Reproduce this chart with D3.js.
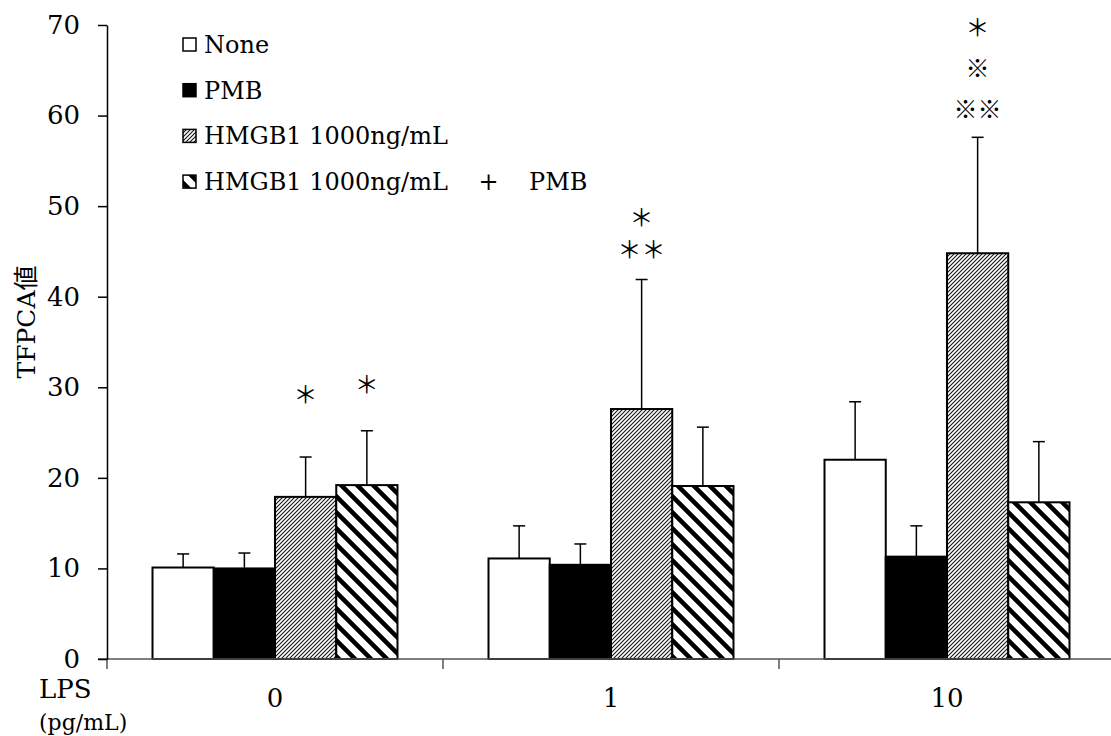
<!DOCTYPE html>
<html><head><meta charset="utf-8">
<script src="https://cdn.jsdelivr.net/npm/d3@7"></script>
<style>body{margin:0;background:#fff} svg{display:block}</style>
</head><body>
<svg id="c" width="1111" height="736"></svg>
<script>
const groups = ["0", "1", "10"];
const seriesNames = ["None", "PMB", "HMGB1 1000ng/mL", "HMGB1 1000ng/mL    +    PMB"];
const valsNone = [10.1, 11.1, 22.0];
const valsPMB = [10.0, 10.4, 11.3];
const valsHMGB1 = [17.9, 27.6, 44.8];
const valsHMGB1PMB = [19.2, 19.1, 17.3];
const errNone = [11.6, 14.7, 28.4];
const errPMB = [11.7, 12.7, 14.7];
const errHMGB1 = [22.3, 41.9, 57.6];
const errHMGB1PMB = [25.2, 25.6, 24.0];
const yTicks = [0, 10, 20, 30, 40, 50, 60, 70];
const annGroup = ["0", "0", "1", "1", "10", "10", "10"];
const annSeries = [2, 3, 2, 2, 2, 2, 2];
const annValue = [29.4, 30.5, 49.0, 45.4, 70.0, 65.4, 60.9];
const annLabel = ["＊", "＊", "＊", "＊＊", "＊", "※", "※※"];
const yTitle = "TFPCA値";
const xTitle1 = "LPS";
const xTitle2 = "(pg/mL)";

const values = [valsNone, valsPMB, valsHMGB1, valsHMGB1PMB];
const errs = [errNone, errPMB, errHMGB1, errHMGB1PMB];

const svg = d3.select("#c");
const serif = "'DejaVu Serif', 'Noto Sans CJK JP', serif";

const defs = svg.append("defs");
const p1 = defs.append("pattern").attr("id", "fine").attr("patternUnits", "userSpaceOnUse")
  .attr("width", 4).attr("height", 4);
p1.append("rect").attr("width", 4).attr("height", 4).attr("fill", "#fff");
p1.append("path").attr("d", "M0,4 L4,0 M-1,1 L1,-1 M3,5 L5,3")
  .attr("stroke", "#111").attr("stroke-width", 1.1);
const p2 = defs.append("pattern").attr("id", "wide").attr("patternUnits", "userSpaceOnUse")
  .attr("width", 16).attr("height", 16);
p2.append("rect").attr("width", 16).attr("height", 16).attr("fill", "#fff");
p2.append("path").attr("d", "M0,0 L16,16 M-4,12 L4,20 M12,-4 L20,4")
  .attr("stroke", "#000").attr("stroke-width", 4.5);

const fills = ["#fff", "#000", "url(#fine)", "url(#wide)"];

const x = d3.scaleBand().domain(groups).range([107, 1115]).paddingInner(0).paddingOuter(0);
const xs = d3.scaleBand().domain(d3.range(seriesNames.length)).range([0, x.bandwidth()])
  .paddingInner(0).paddingOuter(0.743);
const y = d3.scaleLinear().domain([0, 70]).range([659, 25]);

const rows = [];
groups.forEach((g, gi) => seriesNames.forEach((s, si) => rows.push({g, si, v: values[si][gi], e: errs[si][gi]})));

// error bars (behind bars)
const eb = svg.append("g").attr("stroke", "#000").attr("stroke-width", 1.5);
rows.forEach(r => {
  const cx = x(r.g) + xs(r.si) + xs.bandwidth() / 2;
  eb.append("line").attr("x1", cx).attr("x2", cx).attr("y1", y(r.v)).attr("y2", y(r.e));
  eb.append("line").attr("x1", cx - 6).attr("x2", cx + 6).attr("y1", y(r.e)).attr("y2", y(r.e));
});

svg.append("g").selectAll("rect").data(rows).join("rect")
  .attr("x", d => x(d.g) + xs(d.si))
  .attr("width", xs.bandwidth())
  .attr("y", d => y(d.v))
  .attr("height", d => y(0) - y(d.v))
  .attr("fill", d => fills[d.si])
  .attr("stroke", "#000").attr("stroke-width", 2);

// x axis
const xa = svg.append("g");
xa.append("line").attr("x1", 98).attr("x2", 1115).attr("y1", y(0)).attr("y2", y(0))
  .attr("stroke", "#555").attr("stroke-width", 1.5);
const bounds = groups.map(g => x(g)).concat([x.range()[1]]);
xa.selectAll("line.t").data(bounds).join("line").attr("class", "t")
  .attr("x1", d => d).attr("x2", d => d).attr("y1", y(0)).attr("y2", y(0) + 10)
  .attr("stroke", "#555").attr("stroke-width", 1.5);
xa.selectAll("text").data(groups).join("text")
  .attr("x", d => x(d) + x.bandwidth() / 2).attr("y", 698)
  .attr("text-anchor", "middle").attr("dominant-baseline", "central")
  .attr("font-family", serif).attr("font-size", 26).text(d => d);

// y axis
const ya = svg.append("g").attr("transform", "translate(107,0)")
  .call(d3.axisLeft(y).tickValues(yTicks).tickSize(9).tickPadding(18).tickSizeOuter(0));
ya.select(".domain").attr("stroke", "#000").attr("stroke-width", 1.5);
ya.selectAll(".tick line").attr("stroke", "#000").attr("stroke-width", 1.5);
ya.selectAll(".tick text").attr("font-family", serif).attr("font-size", 26).attr("fill", "#000");

// y title
svg.append("text").attr("transform", "translate(26,322) rotate(-90)")
  .attr("text-anchor", "middle").attr("dominant-baseline", "central")
  .attr("font-family", serif).attr("font-size", 25).text(yTitle);

// x titles
svg.append("text").attr("x", 39).attr("y", 689).attr("dominant-baseline", "central")
  .attr("font-family", serif).attr("font-size", 26).text(xTitle1);
svg.append("text").attr("x", 39).attr("y", 722).attr("dominant-baseline", "central")
  .attr("font-family", serif).attr("font-size", 22).text(xTitle2);

// annotations
svg.append("g").selectAll("text").data(annLabel).join("text")
  .attr("x", (d, i) => x(annGroup[i]) + xs(annSeries[i]) + xs.bandwidth() / 2)
  .attr("y", (d, i) => y(annValue[i]))
  .attr("text-anchor", "middle").attr("dominant-baseline", "central")
  .attr("font-family", "'Noto Sans CJK JP', sans-serif").attr("font-size", 24)
  .attr("fill", "#000")
  .text(d => d);

// legend
const lg = svg.append("g");
seriesNames.forEach((s, i) => {
  const cy = 45 + i * 45.7;
  lg.append("rect").attr("x", 183).attr("y", cy - 7).attr("width", 13).attr("height", 13)
    .attr("fill", fills[i]).attr("stroke", "#000").attr("stroke-width", 1.5);
  lg.append("text").attr("x", 204).attr("y", cy).attr("dominant-baseline", "central")
    .attr("font-family", serif).attr("font-size", 24).style("white-space", "pre").text(s);
});
</script>
</body></html>
